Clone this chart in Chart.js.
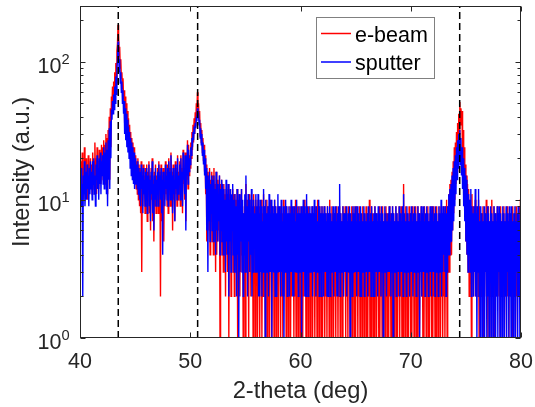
<!DOCTYPE html>
<html>
<head>
<meta charset="utf-8">
<script src="https://cdn.jsdelivr.net/npm/chart.js@4.4.1/dist/chart.umd.min.js"></script>
<style>
	html, body { margin: 0; padding: 0; background: #fff; }
	canvas { display: block; }
</style>
</head>
<body>
<canvas id="chart-xrd" width="535" height="407"></canvas>
<script>
// Sampling grid of the scans (2-theta, deg)
const ANGLE_START = 40;
const ANGLE_STEP = 0.05;

// e-beam film, counts (one row per degree)
const EBEAM = [
	16, 11, 19, 9, 22, 12, 17, 10, 24, 11, 15, 20, 13, 18, 10, 21, 12, 17, 14, 20,
	13, 18, 11, 22, 14, 19, 12, 26, 15, 20, 11, 24, 16, 19, 12, 23, 14, 21, 13, 25,
	16, 24, 14, 27, 15, 25, 13, 30, 12, 28, 11, 32, 16, 40, 14, 46, 24, 56, 48, 66,
	52, 72, 56, 84, 62, 98, 70, 120, 135, 185, 160, 110, 128, 90, 104, 76, 84, 64, 76, 54,
	62, 36, 56, 32, 50, 28, 44, 25, 39, 23, 35, 20, 31, 18, 28, 16, 26, 15, 24, 14,
	14, 21, 12, 19, 11, 20, 10, 18, 9, 17, 8, 19, 3, 16, 9, 18, 11, 15, 8, 17,
	9, 18, 7, 16, 11, 19, 8, 15, 6, 17, 10, 20, 7, 14, 5, 16, 9, 18, 8, 15,
	10, 17, 8, 19, 11, 16, 2, 18, 7, 15, 9, 17, 5, 14, 10, 19, 11, 16, 9, 18,
	8, 20, 11, 17, 9, 22, 12, 16, 6, 18, 10, 15, 7, 19, 11, 17, 9, 21, 10, 16,
	12, 19, 9, 21, 11, 17, 8, 23, 13, 18, 10, 22, 7, 20, 14, 27, 12, 25, 15, 21,
	17, 26, 20, 31, 23, 35, 26, 39, 30, 43, 34, 50, 40, 60, 45, 50, 38, 44, 29, 36,
	26, 32, 22, 28, 19, 25, 16, 21, 11, 18, 5, 16, 7, 15, 6, 17, 4, 14, 7, 16,
	5, 15, 4, 17, 6, 13, 3, 16, 4, 14, 5, 12, 6, 15, 1, 13, 5, 14, 4, 12,
	3, 13, 5, 11, 2, 12, 4, 10, 3, 13, 1, 11, 4, 12, 2, 10, 5, 12, 3, 11,
	2, 11, 4, 10, 3, 12, 1, 9, 4, 11, 2, 10, 3, 12, 4, 9, 1, 8, 3, 10,
	1, 13, 3, 10, 4, 8, 1, 11, 3, 9, 2, 10, 4, 8, 1, 11, 3, 9, 1, 10,
	3, 8, 1, 10, 4, 9, 1, 7, 3, 10, 1, 8, 2, 11, 4, 9, 1, 8, 3, 10,
	1, 9, 2, 8, 1, 10, 3, 7, 1, 9, 4, 8, 1, 10, 2, 9, 1, 7, 3, 9,
	1, 8, 3, 9, 1, 7, 2, 8, 1, 10, 2, 9, 4, 8, 1, 9, 3, 7, 1, 8,
	3, 9, 1, 8, 2, 7, 4, 9, 1, 8, 2, 10, 1, 7, 3, 9, 1, 8, 2, 9,
	1, 7, 3, 9, 1, 8, 2, 10, 3, 7, 1, 9, 2, 8, 1, 9, 3, 8, 1, 7,
	2, 9, 1, 8, 3, 7, 1, 9, 2, 8, 1, 10, 3, 7, 1, 9, 2, 8, 1, 9,
	1, 7, 3, 9, 1, 8, 2, 7, 1, 9, 4, 8, 1, 10, 2, 7, 1, 9, 3, 8,
	1, 8, 2, 7, 1, 9, 3, 8, 1, 7, 2, 9, 1, 8, 4, 7, 1, 9, 2, 8,
	3, 9, 1, 8, 2, 7, 1, 9, 3, 8, 1, 7, 2, 9, 1, 8, 4, 9, 1, 7,
	1, 9, 3, 8, 1, 7, 2, 9, 1, 8, 3, 7, 1, 9, 2, 8, 1, 7, 3, 9,
	1, 8, 1, 7, 2, 10, 1, 8, 1, 9, 3, 8, 1, 7, 1, 9, 2, 8, 1, 7,
	3, 8, 1, 9, 1, 7, 2, 8, 1, 9, 1, 7, 3, 8, 1, 9, 2, 8, 1, 7,
	1, 9, 2, 8, 1, 7, 1, 9, 3, 8, 1, 7, 2, 9, 1, 8, 1, 7, 2, 9,
	1, 7, 2, 9, 1, 8, 1, 13, 2, 7, 1, 9, 3, 8, 1, 7, 1, 9, 2, 8,
	1, 8, 1, 9, 3, 7, 1, 8, 2, 9, 1, 7, 1, 9, 2, 8, 1, 7, 3, 9,
	2, 7, 1, 8, 1, 9, 2, 7, 1, 8, 3, 9, 1, 7, 1, 8, 2, 9, 1, 8,
	1, 9, 2, 7, 1, 8, 1, 9, 2, 7, 1, 8, 3, 9, 1, 7, 2, 8, 1, 9,
	2, 8, 1, 9, 2, 10, 1, 9, 3, 11, 3, 13, 4, 14, 4, 16, 6, 19, 8, 24,
	10, 26, 13, 31, 16, 36, 20, 42, 30, 51, 35, 46, 40, 44, 18, 32, 14, 24, 9, 18,
	5, 15, 4, 13, 3, 12, 2, 10, 4, 9, 1, 11, 3, 9, 2, 8, 3, 10, 2, 9,
	3, 8, 2, 10, 1, 9, 3, 7, 2, 8, 4, 9, 1, 7, 2, 8, 3, 10, 2, 8,
	1, 9, 3, 7, 2, 8, 1, 10, 3, 7, 2, 9, 1, 8, 3, 7, 2, 9, 3, 8,
	2, 8, 1, 9, 3, 7, 2, 8, 3, 9, 1, 7, 2, 8, 3, 9, 2, 7, 1, 8,
	3, 7, 2, 8, 1, 9, 3, 7, 2, 8, 1, 9, 2, 7, 3, 8, 2, 9, 2, 10,
	10,
];

// sputtered film
const SPUTTER = [
	14, 10, 17, 9, 13, 2, 15, 11, 19, 9, 12, 16, 10, 18, 12, 15, 9, 17, 11, 19,
	12, 16, 10, 19, 13, 20, 11, 15, 9, 18, 14, 21, 12, 17, 10, 20, 13, 22, 11, 19,
	15, 21, 13, 24, 12, 22, 14, 26, 11, 23, 9, 27, 14, 33, 12, 37, 20, 45, 38, 52,
	42, 58, 45, 66, 50, 78, 58, 92, 100, 140, 124, 85, 104, 70, 84, 60, 72, 50, 62, 42,
	52, 30, 46, 27, 42, 24, 38, 22, 34, 20, 31, 17, 28, 15, 26, 14, 24, 13, 22, 12,
	15, 20, 13, 18, 12, 19, 11, 17, 10, 16, 9, 18, 12, 15, 8, 17, 11, 14, 9, 16,
	10, 17, 8, 15, 12, 18, 9, 14, 7, 16, 11, 19, 8, 13, 6, 15, 10, 17, 9, 14,
	11, 16, 9, 18, 12, 15, 10, 17, 8, 14, 4, 16, 11, 13, 9, 18, 12, 15, 10, 17,
	9, 19, 12, 16, 10, 21, 13, 15, 8, 17, 11, 14, 7, 18, 12, 16, 10, 20, 11, 15,
	13, 18, 10, 20, 12, 16, 9, 22, 14, 17, 11, 21, 6, 19, 15, 25, 13, 23, 16, 20,
	18, 24, 21, 28, 24, 31, 27, 34, 30, 36, 33, 40, 37, 46, 39, 43, 35, 38, 28, 33,
	25, 30, 21, 26, 18, 23, 15, 20, 12, 17, 6, 15, 3, 14, 7, 16, 5, 13, 8, 15,
	6, 14, 5, 15, 7, 12, 4, 16, 6, 13, 5, 11, 7, 15, 4, 12, 6, 14, 5, 13,
	4, 12, 6, 10, 3, 14, 5, 11, 4, 13, 2, 10, 5, 12, 3, 11, 6, 13, 4, 10,
	3, 11, 5, 9, 2, 12, 4, 10, 1, 11, 3, 9, 5, 12, 3, 10, 2, 8, 4, 11,
	3, 15, 4, 9, 2, 11, 5, 10, 3, 8, 4, 12, 2, 9, 3, 10, 5, 8, 3, 11,
	3, 9, 3, 11, 2, 8, 2, 10, 3, 9, 2, 7, 3, 12, 3, 9, 1, 10, 3, 8,
	3, 9, 2, 11, 3, 8, 3, 10, 1, 9, 3, 8, 3, 10, 2, 9, 2, 8, 3, 11,
	3, 9, 3, 8, 2, 10, 3, 7, 2, 9, 1, 8, 3, 10, 3, 9, 2, 8, 3, 9,
	2, 8, 3, 10, 3, 9, 2, 8, 2, 9, 3, 7, 3, 10, 3, 8, 2, 9, 3, 8,
	3, 9, 1, 8, 3, 10, 3, 9, 2, 8, 2, 11, 3, 9, 2, 8, 3, 9, 3, 8,
	3, 9, 2, 8, 3, 10, 3, 8, 2, 9, 3, 7, 3, 10, 2, 9, 3, 8, 2, 9,
	3, 8, 2, 9, 3, 8, 3, 7, 2, 9, 2, 8, 3, 9, 2, 8, 3, 7, 3, 9,
	2, 8, 3, 9, 3, 7, 2, 8, 2, 9, 3, 13, 2, 8, 3, 7, 3, 9, 2, 8,
	3, 8, 3, 9, 2, 7, 3, 8, 3, 9, 1, 8, 3, 7, 2, 9, 3, 8, 3, 9,
	3, 7, 2, 9, 3, 8, 3, 7, 2, 9, 2, 8, 3, 7, 3, 9, 2, 8, 3, 7,
	3, 8, 2, 9, 3, 7, 3, 8, 2, 9, 3, 7, 2, 8, 2, 9, 3, 8, 3, 7,
	2, 9, 3, 8, 3, 7, 2, 9, 3, 8, 1, 7, 3, 9, 3, 8, 2, 7, 3, 8,
	3, 9, 3, 7, 2, 8, 3, 9, 1, 8, 3, 7, 3, 9, 2, 8, 3, 7, 3, 9,
	2, 8, 3, 7, 3, 9, 2, 11, 3, 8, 3, 7, 2, 9, 3, 8, 3, 7, 2, 8,
	3, 9, 3, 7, 2, 8, 3, 9, 3, 8, 2, 7, 3, 9, 3, 8, 1, 7, 3, 9,
	2, 8, 3, 9, 3, 7, 2, 8, 3, 9, 3, 8, 2, 7, 3, 9, 3, 8, 2, 9,
	3, 7, 3, 8, 2, 9, 3, 8, 3, 7, 2, 9, 3, 8, 3, 10, 2, 8, 3, 9,
	4, 8, 3, 9, 2, 8, 3, 9, 4, 11, 4, 12, 5, 13, 5, 15, 6, 17, 7, 19,
	9, 21, 11, 24, 14, 27, 17, 30, 20, 32, 18, 28, 15, 24, 12, 20, 9, 17, 7, 15,
	5, 14, 4, 12, 3, 11, 4, 10, 3, 12, 2, 9, 3, 8, 2, 9, 3, 12, 2, 8,
	1, 9, 3, 12, 2, 7, 1, 9, 3, 8, 1, 7, 2, 9, 1, 8, 3, 7, 1, 9,
	2, 8, 1, 7, 3, 9, 1, 8, 2, 7, 1, 9, 3, 8, 1, 7, 2, 9, 1, 8,
	3, 9, 1, 8, 2, 7, 1, 9, 3, 8, 1, 7, 2, 9, 1, 8, 3, 7, 1, 9,
	2, 8, 1, 9, 3, 7, 1, 8, 2, 9, 1, 7, 3, 8, 1, 9, 2, 7, 1, 8,
	8,
];

// reference peak positions (dashed lines)
const PEAKS = [43.47, 50.67, 74.44];

// axes
const X_MIN = 40;
const X_MAX = 80;
const X_TICKS = [40, 50, 60, 70, 80];
const Y_MIN = 1;
const Y_MAX = 253;
const Y_TICKS = [1, 10, 100];
const Y_TICK_EXPONENTS = ["0", "1", "2"];
const Y_MINOR_TICKS = [2, 3, 4, 5, 6, 7, 8, 9, 20, 30, 40, 50, 60, 70, 80, 90, 200];

const SERIES_LABELS = ["e-beam", "sputter"];
const X_TITLE = "2-theta (deg)";
const Y_TITLE = "Intensity (a.u.)";

const FONT = "'Liberation Sans', Arial, Helvetica, sans-serif";
const AXIS_COLOR = "#262626";
const RED = "#ff0000";
const BLUE = "#0000ff";

const toPoints = (values) => values.map((v, i) => ({ x: +(ANGLE_START + i * ANGLE_STEP).toFixed(2), y: v }));

// Matlab-like box, inward ticks, labels and legend
const matlabAxes = {
	id: "matlabAxes",
	afterDraw(chart) {
		const { ctx, chartArea, scales } = chart;
		const { left, right, top, bottom } = chartArea;
		const L = Math.round(left) + 0.5;
		const R = Math.round(right) - 0.5;
		const T = Math.round(top) + 0.5;
		const B = Math.round(bottom) - 0.5;

		ctx.save();
		ctx.strokeStyle = AXIS_COLOR;
		ctx.lineWidth = 1;

		// frame
		ctx.strokeRect(L, T, R - L, B - T);

		// x ticks (bottom and top)
		ctx.beginPath();
		X_TICKS.forEach((t) => {
			const px = Math.round(scales.x.getPixelForValue(t)) + 0.5;
			ctx.moveTo(px, B);
			ctx.lineTo(px, B - 5);
			ctx.moveTo(px, T);
			ctx.lineTo(px, T + 5);
		});
		// y ticks (left and right)
		Y_TICKS.forEach((t) => {
			const py = Math.round(scales.y.getPixelForValue(t)) + 0.5;
			ctx.moveTo(L, py);
			ctx.lineTo(L + 5, py);
			ctx.moveTo(R, py);
			ctx.lineTo(R - 5, py);
		});
		Y_MINOR_TICKS.forEach((t) => {
			const py = Math.round(scales.y.getPixelForValue(t)) + 0.5;
			ctx.moveTo(L, py);
			ctx.lineTo(L + 3, py);
			ctx.moveTo(R, py);
			ctx.lineTo(R - 3, py);
		});
		ctx.stroke();

		// tick labels
		ctx.fillStyle = AXIS_COLOR;
		ctx.font = `21.5px ${FONT}`;
		ctx.textAlign = "center";
		ctx.textBaseline = "alphabetic";
		X_TICKS.forEach((t) => {
			ctx.fillText(String(t), scales.x.getPixelForValue(t), bottom + 30);
		});

		Y_TICKS.forEach((t, i) => {
			const py = scales.y.getPixelForValue(t);
			ctx.textAlign = "right";
			ctx.font = `21.5px ${FONT}`;
			ctx.fillText("10", left - 18.5, py + 11);
			ctx.textAlign = "left";
			ctx.font = `14.7px ${FONT}`;
			ctx.fillText(Y_TICK_EXPONENTS[i], left - 18.5, py + 2);
		});

		// axis titles
		ctx.font = `23.7px ${FONT}`;
		ctx.textAlign = "center";
		ctx.fillText(X_TITLE, (left + right) / 2, bottom + 60);
		ctx.save();
		ctx.translate(28.5, (top + bottom) / 2);
		ctx.rotate(-Math.PI / 2);
		ctx.fillText(Y_TITLE, 0, 0);
		ctx.restore();

		// legend
		const lx = 316.5, ly = 17.5, lw = 118, lh = 61;
		ctx.fillStyle = "#fff";
		ctx.fillRect(lx, ly, lw, lh);
		ctx.strokeStyle = "#808080";
		ctx.strokeRect(lx, ly, lw, lh);
		const colors = [RED, BLUE];
		SERIES_LABELS.forEach((label, i) => {
			const base = 41.5 + i * 28.5;
			ctx.strokeStyle = colors[i];
			ctx.lineWidth = 1.5;
			ctx.beginPath();
			ctx.moveTo(321, base - 8);
			ctx.lineTo(351, base - 8);
			ctx.stroke();
			ctx.fillStyle = "#000";
			ctx.font = `21.5px ${FONT}`;
			ctx.textAlign = "left";
			ctx.fillText(label, 355, base);
		});
		ctx.restore();
	},
};

const peakDatasets = PEAKS.map((p) => ({
	label: "peak",
	data: [{ x: p, y: Y_MIN }, { x: p, y: Y_MAX }],
	borderColor: "#000",
	borderWidth: 1.5,
	borderDash: [7, 4],
	pointRadius: 0,
	order: 0,
}));

const CHART_CONFIG = {
	type: "line",
	data: {
		datasets: [
			{
				label: SERIES_LABELS[0],
				data: toPoints(EBEAM),
				borderColor: RED,
				borderWidth: 1.4,
				pointRadius: 0,
				tension: 0,
				order: 2,
			},
			{
				label: SERIES_LABELS[1],
				data: toPoints(SPUTTER),
				borderColor: BLUE,
				borderWidth: 1.4,
				pointRadius: 0,
				tension: 0,
				order: 1,
			},
			...peakDatasets,
		],
	},
	options: {
		responsive: false,
		animation: false,
		layout: {
			padding: { left: 80, right: 14, top: 6, bottom: 69 },
		},
		scales: {
			x: { type: "linear", min: X_MIN, max: X_MAX, display: false },
			y: { type: "logarithmic", min: Y_MIN, max: Y_MAX, display: false },
		},
		plugins: {
			legend: { display: false },
			tooltip: { enabled: false },
		},
	},
	plugins: [matlabAxes],
};

new Chart(document.getElementById("chart-xrd"), CHART_CONFIG);
</script>
</body>
</html>
